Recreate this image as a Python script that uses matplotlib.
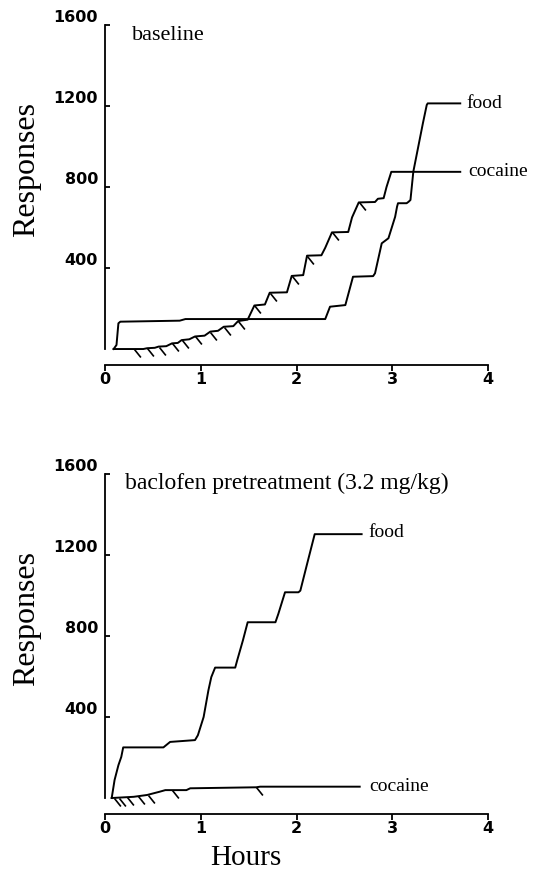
import matplotlib
matplotlib.use("Agg")
import matplotlib.pyplot as plt
from matplotlib.path import Path

# ---- baseline session (hours, cumulative responses) ----
base_food_h = [0.09, 0.12, 0.14, 0.16, 0.78, 0.84, 2.30, 2.35, 2.51, 2.59, 2.80, 2.82,
               2.89, 2.96, 3.03, 3.05, 3.06, 3.15, 3.17, 3.19, 3.22, 3.32, 3.36, 3.37, 3.71]
base_food_r = [0, 20, 127, 135, 140, 148, 148, 209, 217, 357, 360, 374,
               522, 547, 653, 703, 720, 720, 727, 736, 876, 1115, 1205, 1213, 1213]

base_coc_h = [0.09, 0.30, 0.40, 0.44, 0.52, 0.56, 0.64, 0.70, 0.76, 0.80, 0.88, 0.94,
              1.04, 1.10, 1.18, 1.24, 1.34, 1.39, 1.49, 1.56, 1.67, 1.72, 1.90, 1.95,
              2.07, 2.11, 2.26, 2.30, 2.37, 2.54, 2.58, 2.65, 2.82, 2.85, 2.91, 2.94,
              2.99, 3.71]
base_coc_r = [0, 0, 0, 4, 6, 12, 14, 28, 30, 44, 48, 62,
              66, 86, 90, 110, 113, 138, 145, 215, 220, 278, 280, 361,
              365, 461, 463, 500, 576, 578, 650, 724, 726, 742, 745, 800,
              875, 875]

# cocaine infusions (hash marks)
base_inf_h = [0.30, 0.44, 0.56, 0.70, 0.80, 0.94, 1.10, 1.24, 1.39, 1.56, 1.72, 1.95, 2.11, 2.37, 2.65]
base_inf_r = [0, 4, 12, 28, 44, 62, 86, 110, 138, 215, 278, 361, 461, 576, 724]

# ---- baclofen pretreatment session ----
bac_food_h = [0.07, 0.10, 0.14, 0.17, 0.19, 0.61, 0.68, 0.94, 0.97, 1.03, 1.08, 1.11,
              1.15, 1.36, 1.38, 1.44, 1.49, 1.78, 1.81, 1.88, 2.02, 2.04, 2.11, 2.19, 2.68]
bac_food_r = [0, 89, 162, 203, 250, 250, 277, 286, 310, 400, 532, 597,
              644, 644, 679, 778, 868, 868, 909, 1016, 1016, 1024, 1155, 1303, 1303]

bac_coc_h = [0.07, 0.30, 0.44, 0.57, 0.63, 0.85, 0.89, 1.58, 1.62, 2.66]
bac_coc_r = [0, 6, 15, 31, 39, 39, 48, 53, 56, 56]

bac_inf_h = [0.09, 0.15, 0.23, 0.34, 0.45, 0.70, 1.58]
bac_inf_r = [0, 2, 4, 8, 15, 39, 53]

panels = [
    ("baseline", 16, base_food_h, base_food_r, base_coc_h, base_coc_r, base_inf_h, base_inf_r,
     (3.77, 1213), (3.79, 875), (0.28, 1550)),
    ("baclofen pretreatment (3.2 mg/kg)", 17, bac_food_h, bac_food_r, bac_coc_h, bac_coc_r,
     bac_inf_h, bac_inf_r, (2.75, 1310), (2.76, 59), (0.21, 1554)),
]

serif = "Liberation Serif"
hash_marker = Path([(0, 0), (0.8, -1)], [Path.MOVETO, Path.LINETO])

fig = plt.figure(figsize=(5.33, 8.72), dpi=100)
ax_top = fig.add_axes([0.197, 0.5814, 0.7186, 0.3899])
ax_bot = fig.add_axes([0.197, 0.0665, 0.7186, 0.3899])

for ax, (title, tsize, fh, fr, ch, cr, ih, ir, food_xy, coc_xy, title_xy) in zip([ax_top, ax_bot], panels):
    ax.plot(fh, fr, color="black", lw=1.4)
    ax.plot(ch, cr, color="black", lw=1.4)
    ax.plot(ih, ir, ls="none", marker=hash_marker, ms=11.5, mec="black", mew=1.2)

    ax.text(*food_xy, "food", fontsize=14, family=serif, va="center", ha="left")
    ax.text(*coc_xy, "cocaine", fontsize=14, family=serif, va="center", ha="left")
    ax.text(*title_xy, title, fontsize=tsize, family=serif, va="center", ha="left")

    ax.set_xlim(0, 4)
    ax.set_ylim(-79, 1600)
    for s in ["top", "right"]:
        ax.spines[s].set_visible(False)
    ax.spines["left"].set_bounds(0, 1600)
    ax.spines["bottom"].set_bounds(0, 4)
    for s in ["left", "bottom"]:
        ax.spines[s].set_linewidth(1.3)

    ax.set_xticks([0, 1, 2, 3, 4])
    ax.set_yticks([400, 800, 1200, 1600])
    ax.tick_params(axis="x", direction="out", length=4, width=1.3, pad=1, labelsize=11.5)
    ax.tick_params(axis="y", direction="in", length=3.5, width=1.3, pad=5, labelsize=11.5)
    for lab in ax.get_xticklabels() + ax.get_yticklabels():
        lab.set_fontweight("bold")
    for lab in ax.get_yticklabels():
        lab.set_va("bottom")

    ax.text(-0.205, 0.575, "Responses", transform=ax.transAxes, rotation=90,
            fontsize=23, family=serif, ha="center", va="center")

ax_bot.text(1.47, -0.13, "Hours", transform=ax_bot.get_xaxis_transform(),
            fontsize=21, family=serif, ha="center", va="center")

fig.savefig("out.png", dpi=100)
